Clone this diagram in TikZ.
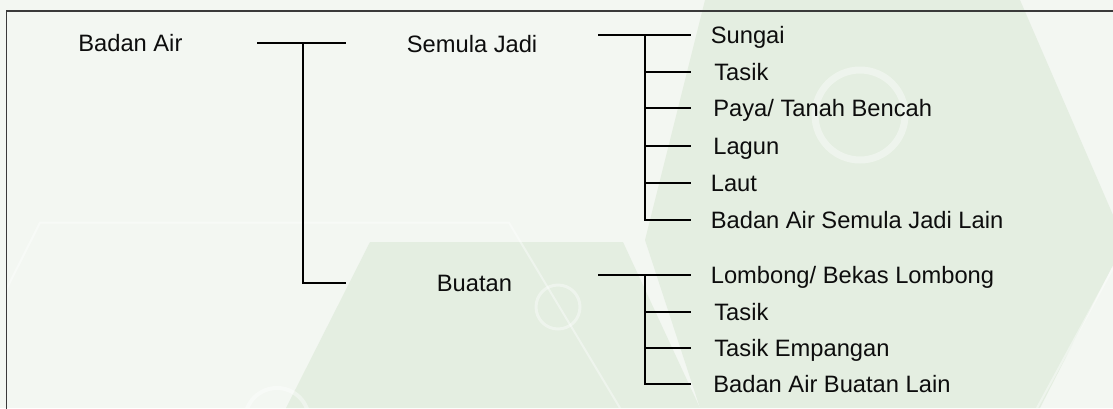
\documentclass[tikz,border=0pt]{standalone}
\usepackage{fontspec}
\setmainfont{Liberation Sans}
\definecolor{palebg}{HTML}{F3F7F2}
\definecolor{hexgreen}{HTML}{E4EEE1}
\definecolor{framegray}{HTML}{3A3A3A}

\begin{document}
\begin{tikzpicture}[x=1pt,y=-1pt,line width=1.7pt,
                    main node/.style={anchor=base west,inner sep=0pt,text=black!95,
                                      font=\fontsize{23.7}{28}\selectfont},
                    hex/.style={fill=hexgreen,draw=none},
                    glow/.style={draw=white,opacity=0.4}]
  \useasboundingbox (0,0) rectangle (1113,408);
  % background
  \fill[palebg] (0,0) rectangle (1113,408);
  \fill[hex] (705,0) -- (1020,0) -- (1113,215) -- (1113,265) -- (1040,408)
             -- (700,408) -- (645,240) -- cycle;
  \fill[hex] (370,242) -- (623,242) -- (700,408) -- (286,408) -- cycle;
  \draw[glow,line width=2pt] (6,290) -- (40,222.7) -- (509,222.7) -- (620,408);
  \draw[glow,line width=2pt] (1113,268) -- (1037,408);
  \draw[glow,line width=7pt] (860,115) circle (45);
  \draw[glow,line width=3pt] (558,307) circle (22);
  \draw[glow,line width=4pt] (277,420) circle (32);
  \draw[framegray,line width=1.5pt] (6.4,420) |- (1120,11);

  % labels
  \node[main node] (0) at (77.5,51.7) {Badan Air};
  \node[main node] (1) at (406,52) {Semula Jadi};
  \node[main node] (2) at (436,291.7) {Buatan};

  \node[main node] (11) at (710,43.2) {Sungai};
  \node[main node] (12) at (713.5,80.2) {Tasik};
  \node[main node] (13) at (712.5,116.8) {Paya/ Tanah Bencah};
  \node[main node] (14) at (712.5,154.5) {Lagun};
  \node[main node] (15) at (710,191.2) {Laut};
  \node[main node] (16) at (710,228.5) {Badan Air Semula Jadi Lain};

  \node[main node] (21) at (710,283.8) {Lombong/ Bekas Lombong};
  \node[main node] (22) at (713.5,320.8) {Tasik};
  \node[main node] (23) at (713.5,356.8) {Tasik Empangan};
  \node[main node] (24) at (712.5,392.5) {Badan Air Buatan Lain};

  % brackets
  \coordinate (a0) at (257,42.7);
  \coordinate (a1) at (346,42.7);
  \coordinate (ak) at (303,42.7);
  \coordinate (a2) at (346,283.3);

  \coordinate (b0) at (598,34.7);
  \coordinate (bk) at (644.7,34.7);
  \coordinate (b1) at (690.5,34.7);
  \coordinate (b2) at (690.5,71.7);
  \coordinate (b3) at (690.5,108.3);
  \coordinate (b4) at (690.5,146);
  \coordinate (b5) at (690.5,182.7);
  \coordinate (b6) at (690.5,220);

  \coordinate (c0) at (598,275.3);
  \coordinate (ck) at (644.7,275.3);
  \coordinate (c1) at (690.5,275.3);
  \coordinate (c2) at (690.5,312.3);
  \coordinate (c3) at (690.5,348.3);
  \coordinate (c4) at (690.5,384);

  \draw (a0) -- (a1);
  \draw (ak) |- (a2);

  \draw (b0) -- (b1);
  \draw (bk) |- (b6);
  \draw (bk |- b2) -- (b2);
  \draw (bk |- b3) -- (b3);
  \draw (bk |- b4) -- (b4);
  \draw (bk |- b5) -- (b5);

  \draw (c0) -- (c1);
  \draw (ck) |- (c4);
  \draw (ck |- c2) -- (c2);
  \draw (ck |- c3) -- (c3);
\end{tikzpicture}
\end{document}
